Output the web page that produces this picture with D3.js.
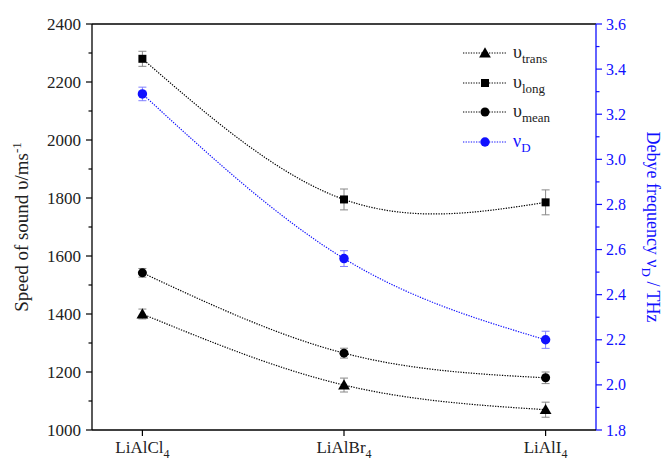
<!DOCTYPE html>
<html>
<head>
<meta charset="utf-8">
<script src="https://cdn.jsdelivr.net/npm/d3@7"></script>
<style>
  html, body { margin: 0; padding: 0; background: #fff; }
  svg { display: block; font-family: "Liberation Serif", "Times New Roman", serif; }
</style>
</head>
<body>
<svg id="chart" width="667" height="461"></svg>
<script>
// Compounds on the x axis (trailing digit drawn as a subscript)
const categories = ["LiAlCl4", "LiAlBr4", "LiAlI4"];

// Speeds of sound (m/s) with uncertainties
const vTrans = [1400, 1155, 1070];
const errTrans = [17, 24, 26];
const vLong = [2280, 1795, 1785];
const errLong = [26, 36, 43];
const vMean = [1542, 1265, 1180];
const errMean = [15, 17, 20];

// Debye frequency (THz) with uncertainties
const debye = [3.29, 2.56, 2.20];
const errDebye = [0.03, 0.035, 0.038];

// Axis ticks
const leftTicks = [1000, 1200, 1400, 1600, 1800, 2000, 2200, 2400];
const rightTicks = [1.8, 2.0, 2.2, 2.4, 2.6, 2.8, 3.0, 3.2, 3.4, 3.6];

const BLUE = "#1010ff";
const svg = d3.select("#chart");
const L = 92, R = 596, T = 24, B = 430;

const x = d3.scalePoint().domain(categories).range([L, R]).padding(0.25);
const yL = d3.scaleLinear().domain([1000, 2400]).range([B, T]);
const yR = d3.scaleLinear().domain([1.8, 3.6]).range([B, T]);

// Top frame line
svg.append("line").attr("x1", L).attr("x2", R).attr("y1", T).attr("y2", T)
  .attr("stroke", "#000").attr("stroke-width", 1.3);

// Left axis
const gL = svg.append("g").attr("transform", `translate(${L},0)`);
gL.append("line").attr("x1", 0).attr("x2", 0).attr("y1", T).attr("y2", B)
  .attr("stroke", "#000").attr("stroke-width", 1.3);
d3.range(1000, 2401, 100).forEach(v => {
  const major = v % 200 === 0;
  gL.append("line").attr("x1", 0).attr("x2", major ? -6 : -3.5)
    .attr("y1", yL(v)).attr("y2", yL(v)).attr("stroke", "#000").attr("stroke-width", 1.2);
});
gL.selectAll("text.tl").data(leftTicks).join("text").attr("class", "tl")
  .attr("x", -11).attr("y", d => yL(d)).attr("dy", "0.35em")
  .attr("text-anchor", "end").attr("font-size", 17).attr("fill", "#222").text(d => d);

// Right axis (blue)
const gR = svg.append("g").attr("transform", `translate(${R},0)`);
gR.append("line").attr("x1", 0).attr("x2", 0).attr("y1", T).attr("y2", B)
  .attr("stroke", BLUE).attr("stroke-width", 1.3);
d3.range(0, 19).forEach(i => {
  const v = 1.8 + i * 0.1;
  const major = i % 2 === 0;
  gR.append("line").attr("x1", 0).attr("x2", major ? 6 : 3.5)
    .attr("y1", yR(v)).attr("y2", yR(v)).attr("stroke", BLUE).attr("stroke-width", 1.2);
});
gR.selectAll("text.tr").data(rightTicks).join("text").attr("class", "tr")
  .attr("x", 10).attr("y", d => yR(d)).attr("dy", "0.35em")
  .attr("text-anchor", "start").attr("font-size", 16).attr("fill", BLUE).text(d => d.toFixed(1));

// Bottom axis
const gB = svg.append("g").attr("transform", `translate(0,${B})`);
gB.append("line").attr("x1", L).attr("x2", R).attr("y1", 0).attr("y2", 0)
  .attr("stroke", "#000").attr("stroke-width", 1.3);
categories.forEach(c => {
  gB.append("line").attr("x1", x(c)).attr("x2", x(c)).attr("y1", 0).attr("y2", 6)
    .attr("stroke", "#000").attr("stroke-width", 1.2);
  const t = gB.append("text").attr("x", x(c)).attr("y", 23).attr("text-anchor", "middle")
    .attr("font-size", 17).attr("fill", "#222");
  t.append("tspan").text(c.slice(0, -1));
  t.append("tspan").attr("dy", 5).attr("font-size", 12).text(c.slice(-1));
});

// Axis titles
const tL = svg.append("text").attr("transform", `translate(28,${(T + B) / 2}) rotate(-90)`)
  .attr("text-anchor", "middle").attr("font-size", 19).attr("fill", "#222");
tL.append("tspan").text("Speed of sound \u03c5/ms");
tL.append("tspan").attr("dy", -7).attr("font-size", 13).text("-1");

const tR = svg.append("text").attr("transform", `translate(647,${(T + B) / 2}) rotate(90)`)
  .attr("text-anchor", "middle").attr("font-size", 18).attr("fill", BLUE);
tR.append("tspan").text("Debye frequency \u03bd");
tR.append("tspan").attr("dy", 5).attr("font-size", 13).text("D");
tR.append("tspan").attr("dy", -5).text(" / THz");

// Series definitions
const series = [
  { vals: vTrans, err: errTrans, y: yL, color: "#000", sym: d3.symbolTriangle, size: 60, label: "trans", greek: "\u03c5" },
  { vals: vLong, err: errLong, y: yL, color: "#000", sym: d3.symbolSquare, size: 64, label: "long", greek: "\u03c5" },
  { vals: vMean, err: errMean, y: yL, color: "#000", sym: d3.symbolCircle, size: 64, label: "mean", greek: "\u03c5" },
  { vals: debye, err: errDebye, y: yR, color: BLUE, sym: d3.symbolCircle, size: 70, label: "D", greek: "\u03bd" }
];

const line = (ys) => d3.line().x((d, i) => x(categories[i])).y(d => ys(d)).curve(d3.curveNatural);

// Smooth dotted connecting curves
series.forEach(s => {
  svg.append("path").datum(s.vals).attr("d", line(s.y))
    .attr("fill", "none").attr("stroke", s.color).attr("stroke-width", 1.2)
    .attr("stroke-dasharray", "1.3,1.3");
});

// Error bars
series.forEach(s => {
  const eb = s.color === BLUE ? "#8080ff" : "#888";
  s.vals.forEach((v, i) => {
    const cx = x(categories[i]);
    const y1 = s.y(v - s.err[i]), y2 = s.y(v + s.err[i]);
    const g = svg.append("g").attr("stroke", eb).attr("stroke-width", 1);
    g.append("line").attr("x1", cx).attr("x2", cx).attr("y1", y1).attr("y2", y2);
    g.append("line").attr("x1", cx - 4).attr("x2", cx + 4).attr("y1", y1).attr("y2", y1);
    g.append("line").attr("x1", cx - 4).attr("x2", cx + 4).attr("y1", y2).attr("y2", y2);
  });
});

// Markers
series.forEach(s => {
  svg.selectAll(null).data(s.vals).join("path")
    .attr("transform", (d, i) => `translate(${x(categories[i])},${s.y(d) + (s.sym === d3.symbolTriangle ? 1 : 0)})`)
    .attr("d", d3.symbol().type(s.sym).size(s.size))
    .attr("fill", s.color);
});

// Legend
const legY = [53, 83, 112, 142];
series.forEach((s, i) => {
  const g = svg.append("g").attr("transform", `translate(0,${legY[i]})`);
  g.append("line").attr("x1", 463).attr("x2", 507).attr("y1", 0).attr("y2", 0)
    .attr("stroke", s.color).attr("stroke-width", 1.2).attr("stroke-dasharray", "1.3,1.3");
  g.append("path").attr("transform", `translate(485,${s.sym === d3.symbolTriangle ? 1 : 0})`)
    .attr("d", d3.symbol().type(s.sym).size(s.size)).attr("fill", s.color);
  const t = g.append("text").attr("x", 513).attr("y", 5).attr("font-size", 18)
    .attr("fill", s.color === BLUE ? BLUE : "#222");
  t.append("tspan").text(s.greek);
  t.append("tspan").attr("dy", 5).attr("font-size", 13).text(s.label);
});
</script>
</body>
</html>
